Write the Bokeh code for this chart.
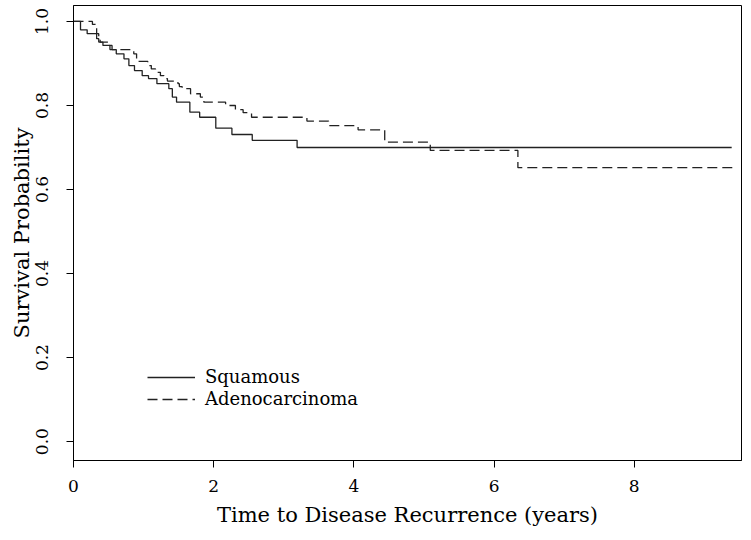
from bokeh.plotting import figure
from bokeh.models import Range1d, FixedTicker, PrintfTickFormatter, Legend, LegendItem
from bokeh.embed import file_html
from bokeh.resources import INLINE

# Kaplan-Meier estimates
squamous_time = [0, 0.10, 0.195, 0.33, 0.36, 0.42, 0.52, 0.61, 0.72, 0.79, 0.87, 0.98,
                 1.07, 1.19, 1.36, 1.41, 1.47, 1.66, 1.80, 2.03, 2.26, 2.55, 3.19, 9.39]
squamous_surv = [1.0, 0.980, 0.971, 0.959, 0.951, 0.943, 0.933, 0.923, 0.911, 0.895, 0.883, 0.871,
                 0.864, 0.852, 0.840, 0.820, 0.808, 0.784, 0.772, 0.746, 0.731, 0.717, 0.700, 0.700]

adeno_time = [0, 0.27, 0.33, 0.36, 0.38, 0.50, 0.55, 0.86, 0.90, 1.06, 1.11, 1.17, 1.24,
              1.29, 1.34, 1.49, 1.51, 1.55, 1.67, 1.81, 1.86, 2.17, 2.31, 2.42, 2.54,
              3.33, 3.64, 4.06, 4.44, 5.09, 6.34, 9.45]
adeno_surv = [1.0, 0.993, 0.971, 0.963, 0.951, 0.943, 0.933, 0.923, 0.905, 0.895, 0.887, 0.879, 0.871,
              0.864, 0.858, 0.852, 0.845, 0.840, 0.828, 0.820, 0.808, 0.800, 0.790, 0.783, 0.772,
              0.763, 0.752, 0.742, 0.713, 0.693, 0.652, 0.652]

x_ticks = [0, 2, 4, 6, 8]
y_ticks = [0.0, 0.2, 0.4, 0.6, 0.8, 1.0]

FONT = "DejaVu Serif"
INK = "#222222"

p = figure(width=743, height=532, output_backend="svg", toolbar_location=None,
           x_range=Range1d(0, 9.53), y_range=Range1d(-0.045, 1.038),
           min_border_left=73, min_border_right=2, min_border_top=5, min_border_bottom=72)

p.xgrid.grid_line_color = None
p.ygrid.grid_line_color = None
p.outline_line_color = "black"
p.outline_line_width = 1
p.background_fill_color = "white"
p.border_fill_color = "white"

r1 = p.step(squamous_time, squamous_surv, mode="after", line_color=INK, line_width=1.3)
r2 = p.step(adeno_time, adeno_surv, mode="after", line_color=INK, line_width=1.3,
            line_dash="10 5")

for ax in (p.xaxis[0], p.yaxis[0]):
    ax.axis_line_color = "black"
    ax.major_tick_line_color = "black"
    ax.major_tick_out = 7
    ax.major_tick_in = 0
    ax.minor_tick_line_color = None
    ax.major_label_text_font = FONT
    ax.major_label_text_font_size = "17px"
    ax.major_label_text_color = "black"
    ax.axis_label_text_font = FONT
    ax.axis_label_text_font_style = "normal"
    ax.axis_label_text_font_size = "21px"
    ax.axis_label_text_color = "black"

p.xaxis[0].ticker = FixedTicker(ticks=x_ticks)
p.xaxis[0].major_label_standoff = 12
p.xaxis[0].axis_label = "Time to Disease Recurrence (years)"
p.xaxis[0].axis_label_standoff = 8

p.yaxis[0].ticker = FixedTicker(ticks=y_ticks)
p.yaxis[0].formatter = PrintfTickFormatter(format="%.1f")
p.yaxis[0].major_label_orientation = "vertical"
p.yaxis[0].major_label_standoff = 18
p.yaxis[0].axis_label = "Survival Probability"
p.yaxis[0].axis_label_standoff = 0

legend = Legend(items=[LegendItem(label="Squamous", renderers=[r1]),
                       LegendItem(label="Adenocarcinoma", renderers=[r2])],
                location=(74, 51), orientation="vertical",
                border_line_color=None, background_fill_alpha=0,
                padding=0, margin=0, spacing=1,
                glyph_width=48, glyph_height=20, label_height=20,
                label_standoff=10, label_text_font=FONT,
                label_text_font_size="18px", label_text_color="black")
p.add_layout(legend)

open("out.html", "w").write(file_html(p, INLINE))
